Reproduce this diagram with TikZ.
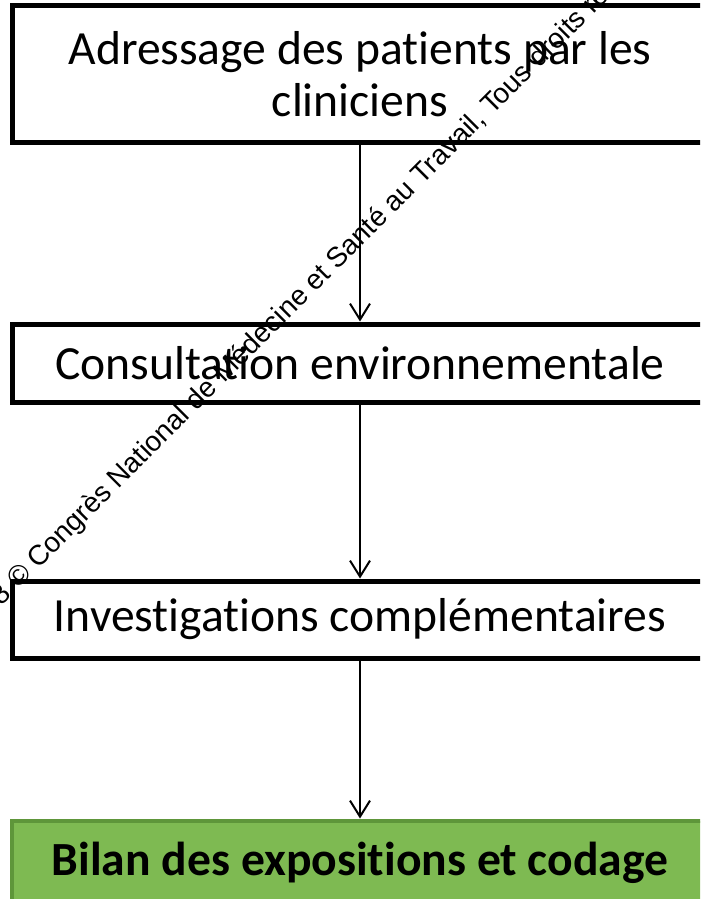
\documentclass[tikz,border=0pt]{standalone}
\usepackage{fontspec}
\setmainfont{Carlito}[Ligatures=NoCommon]
\newfontfamily\wmfont{Liberation Sans}
\usetikzlibrary{arrows.meta}
\definecolor{bilangreen}{RGB}{126,186,82}
\definecolor{bilanborder}{RGB}{94,150,58}
\begin{document}
\begin{tikzpicture}[x=0.75pt, y=-0.75pt, line width=1.5pt,
  stepbox/.style={draw=black, line width=3.75pt, fill=white, minimum width=522pt, inner sep=0pt, align=center, font=\fontsize{35.7}{39}\selectfont},
  lastbox/.style={stepbox, draw=bilanborder, fill=bilangreen, line width=3pt, font=\fontsize{35.7}{39}\selectfont\bfseries},
  flow/.style={-{Straight Barb[length=12pt,width=15pt,line width=1.5pt]}},
  wm text/.style={font=\wmfont\fontsize{21}{25}\selectfont, inner sep=0pt}]
\useasboundingbox (0,0) rectangle (700,899);
\clip (0,0) rectangle (700,899);
\node[stepbox, minimum height=102pt] (adr) at (360,74) {Adressage des patients par les\\cliniciens};
\node[stepbox, minimum height=58.5pt] (cons) at (360,363) {Consultation environnementale};
\node[stepbox, minimum height=57.75pt] (inv) at (360,619.5) {Investigations complémentaires};
\node[lastbox, minimum height=63pt] (bilan) at (360,862.5) {Bilan des expositions et codage};
\draw[flow] (adr) edge (cons);
\draw[flow] (cons) edge (inv);
\draw[flow] (inv) edge (bilan);
\node[wm text, rotate=45, anchor=base west] (wm) at (-32,640) {2018 © Congrès National de Médecine et Santé au Travail, Tous droits réservés};
\end{tikzpicture}
\end{document}
